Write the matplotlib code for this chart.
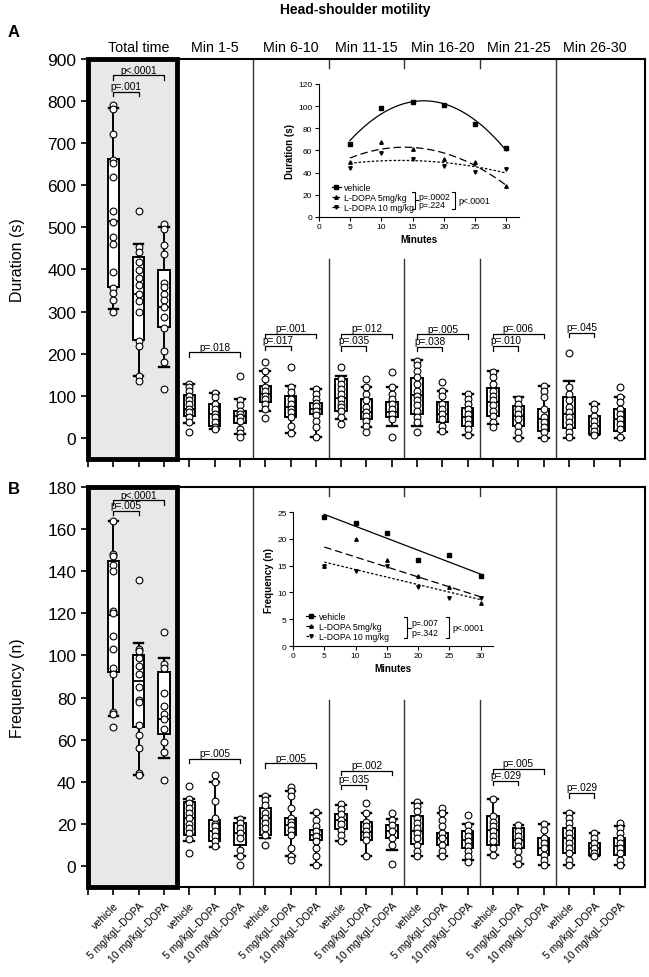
import numpy as np
import matplotlib.pyplot as plt
from matplotlib.lines import Line2D
from matplotlib.transforms import blended_transform_factory

plt.rcParams['font.family'] = ['Liberation Sans', 'DejaVu Sans']

segments = ['Total time', 'Min 1-5', 'Min 6-10', 'Min 11-15', 'Min 16-20', 'Min 21-25', 'Min 26-30']
groups = ['vehicle', '5 mg/kgL-DOPA', '10 mg/kgL-DOPA']

# ---- Duration (s), single animals, order: vehicle / 5 mg / 10 mg ----
dur_total = [[790, 780, 722, 660, 652, 620, 538, 512, 477, 460, 395, 355, 345, 328, 300],
             [540, 453, 441, 417, 399, 379, 362, 342, 326, 298, 231, 219, 148, 136],
             [507, 496, 458, 437, 367, 358, 342, 328, 310, 287, 261, 206, 181, 116]]
dur_min1_5 = [[128, 120, 112, 100, 89, 81, 69, 61, 49, 37, 15],
              [106, 97, 81, 69, 57, 49, 37, 25, 21],
              [146, 91, 77, 65, 57, 49, 41, 21, 12, 2]]
dur_min6_10 = [[180, 158, 140, 120, 112, 100, 93, 81, 69, 47],
               [168, 120, 108, 93, 81, 69, 61, 49, 29, 12],
               [116, 105, 93, 83, 75, 65, 55, 41, 25, 2]]
dur_min11_15 = [[168, 140, 128, 116, 105, 93, 80, 73, 65, 49, 33],
                [139, 120, 105, 89, 73, 61, 53, 41, 29, 13],
                [156, 120, 105, 93, 81, 69, 57, 45, 2]]
dur_min16_20 = [[182, 172, 160, 144, 128, 112, 100, 89, 77, 65, 49, 37, 13],
                [132, 112, 100, 81, 69, 57, 45, 29, 17],
                [105, 93, 81, 69, 57, 45, 33, 21, 6]]
dur_min21_25 = [[156, 144, 128, 112, 100, 89, 77, 65, 51, 37, 25],
                [93, 81, 69, 57, 45, 29, 13, 0],
                [123, 112, 97, 69, 49, 37, 25, 13, 0]]
dur_min26_30 = [[201, 120, 105, 89, 73, 61, 49, 37, 25, 13, 2],
                [81, 69, 53, 41, 29, 17, 6],
                [120, 97, 85, 69, 57, 45, 33, 21, 2]]

# box stats: (whisker low, q1, median, q3, whisker high)
dur_total_box = [(306, 358, 514, 662, 783), (146, 232, 341, 430, 460), (168, 263, 310, 399, 502)]
dur_min1_5_box = [(35, 53, 69, 102, 128), (21, 29, 57, 81, 106), (10, 35, 51, 65, 93)]
dur_min6_10_box = [(65, 86, 105, 123, 158), (12, 49, 73, 100, 123), (2, 57, 69, 83, 116)]
dur_min11_15_box = [(45, 65, 95, 140, 148), (25, 45, 61, 93, 120), (29, 49, 61, 85, 120)]
dur_min16_20_box = [(29, 57, 102, 142, 184), (13, 37, 57, 85, 112), (6, 28, 49, 71, 105)]
dur_min21_25_box = [(33, 51, 85, 118, 158), (0, 29, 51, 75, 97), (0, 17, 45, 69, 123)]
dur_min26_30_box = [(0, 23, 57, 97, 136), (6, 9, 29, 51, 81), (0, 17, 45, 69, 97)]

# ---- Frequency (n) ----
freq_total = [[164, 148, 147, 143, 140, 121, 120, 109, 103, 94, 91, 73, 72, 66],
              [136, 103, 102, 99, 95, 91, 85, 79, 78, 67, 62, 56, 44, 43],
              [111, 96, 94, 82, 76, 72, 70, 65, 59, 54, 41]]
freq_min1_5 = [[38, 32, 30, 27.5, 25, 22.7, 20, 18, 15.6, 13, 6],
               [43, 40, 31, 23, 20, 18.8, 16.4, 14, 11.7, 9.3],
               [22.4, 20.4, 18, 15.6, 13.3, 7.7, 4.6, 0.3]]
freq_min6_10 = [[33, 31.4, 29, 25, 22.7, 20.4, 18, 14.8, 10],
                [37.7, 35.4, 33, 27.5, 23, 21, 19.3, 17.2, 14.8, 8.5, 4.6, 3],
                [25.6, 22, 18.8, 16.4, 14, 11.7, 8.5, 4.6, 0.6]]
freq_min11_15 = [[29.4, 27.2, 24.6, 22, 20, 17.2, 14.8, 11.7],
                 [30, 25, 21, 18.8, 16.4, 14.8, 12.5, 4.6],
                 [25, 22, 19.3, 16.4, 13.3, 10, 1]]
freq_min16_20 = [[30.6, 28.3, 25.9, 23, 20.4, 18, 15.6, 13.3, 10.1, 7.3, 4.6],
                 [27.5, 25, 22, 18.8, 15.6, 13.3, 10.1, 7, 4.6],
                 [24, 19.6, 16.4, 14, 11.7, 9.3, 7, 4.6, 1.9]]
freq_min21_25 = [[31.9, 23.5, 21, 18.8, 16.4, 14, 11.7, 8.5, 5.4],
                 [19.3, 16.4, 14, 11.7, 9.3, 7, 4, 1],
                 [20, 17.2, 13.3, 11, 8.5, 5.4, 3, 0.6]]
freq_min26_30 = [[25, 22.7, 20.4, 18, 15.6, 13.3, 11, 8.5, 6.2, 3, 0.6],
                 [15.6, 13.3, 11, 8.5, 6.2, 4.6],
                 [20.4, 18, 15.6, 13.3, 11, 8.5, 6.2, 3, 0.6]]

freq_total_box = [(71, 92, 119, 145, 164), (43, 66, 88, 100, 106), (51.5, 62.5, 70, 92, 99)]
freq_min1_5_box = [(11.7, 14.8, 22.7, 30.6, 32), (9, 11.7, 16.4, 22, 40), (4.6, 10, 15.6, 20.4, 22.7)]
freq_min6_10_box = [(13.3, 14.8, 23, 27.5, 33), (4.6, 14.8, 19.6, 23, 35.4), (0.6, 12.5, 14.8, 17.2, 25)]
freq_min11_15_box = [(11.7, 17.7, 22, 24.6, 29), (4.6, 12.5, 16, 21, 25), (7.7, 13.3, 16.4, 19.3, 22.3)]
freq_min16_20_box = [(4.6, 10.4, 16.4, 23.5, 29.8), (4.6, 10, 13.3, 15.6, 25), (3, 8.5, 12.5, 16.4, 20)]
freq_min21_25_box = [(5.4, 10, 17.2, 23.5, 32), (1, 8.5, 12.5, 18, 19.3), (0.6, 5.4, 8.5, 13.3, 20)]
freq_min26_30_box = [(0.6, 6.2, 13.3, 18, 25), (4.6, 5.4, 8.5, 11, 15.6), (0.6, 5.4, 9.3, 13.3, 18.8)]

# significance brackets: (group a, group b, level, label); groups numbered 1..21
dur_pvals = [(1, 2, 822, 'p=.001'), (1, 3, 861, 'p<.0001'), (4, 6, 203, 'p=.018'),
             (7, 8, 219, 'p=.017'), (7, 9, 247, 'p=.001'), (10, 11, 218, 'p=.035'),
             (10, 12, 247, 'p=.012'), (13, 14, 216, 'p=.038'), (13, 15, 246, 'p=.005'),
             (16, 17, 218, 'p=.010'), (16, 18, 247, 'p=.006'), (19, 20, 249, 'p=.045')]
freq_pvals = [(1, 2, 168.8, 'p=.005'), (1, 3, 173.6, 'p<.0001'), (4, 6, 51, 'p=.005'),
              (7, 9, 48.8, 'p=.005'), (10, 11, 38.5, 'p=.035'), (10, 12, 45.3, 'p=.002'),
              (16, 17, 40.4, 'p=.029'), (16, 18, 46, 'p=.005'), (19, 20, 34.6, 'p=.029')]

# inset data: group means per 5-min bin
minutes = [5, 10, 15, 20, 25, 30]
ins_dur_veh = [66, 98, 104, 101, 84, 62]
ins_dur_5 = [50, 68, 61.5, 52, 50, 28]
ins_dur_10 = [44, 58, 52, 46, 41, 43]
ins_freq_veh = [24, 23, 21, 16, 17, 13]
ins_freq_5 = [15, 20, 16, 13, 11, 8]
ins_freq_10 = [15, 14, 15, 11, 9, 9]

dur_points = [dur_total, dur_min1_5, dur_min6_10, dur_min11_15, dur_min16_20, dur_min21_25, dur_min26_30]
dur_boxes = [dur_total_box, dur_min1_5_box, dur_min6_10_box, dur_min11_15_box,
             dur_min16_20_box, dur_min21_25_box, dur_min26_30_box]
freq_points = [freq_total, freq_min1_5, freq_min6_10, freq_min11_15, freq_min16_20, freq_min21_25, freq_min26_30]
freq_boxes = [freq_total_box, freq_min1_5_box, freq_min6_10_box, freq_min11_15_box,
              freq_min16_20_box, freq_min21_25_box, freq_min26_30_box]


def draw_panel(ax, points, boxes, pvals, ylim, yticks, ylabel, gap, show_labels):
    ax.set_xlim(0, 22)
    ax.set_ylim(*ylim)
    ax.axvspan(0, 3.5, facecolor='#e8e8e8', edgecolor='black', lw=3.5, zorder=0, clip_on=False)

    # separators between time bins (partly hidden behind the inset)
    span = ylim[1] - ylim[0]
    for xs in [6.5, 18.5]:
        ax.plot([xs, xs], ylim, color='#333333', lw=1.0, zorder=1)
    for xs in [9.5, 12.5, 15.5]:
        ax.plot([xs, xs], [ylim[0], gap], color='#333333', lw=1.0, zorder=1)
        ax.plot([xs, xs], [ylim[1] - 0.022 * span, ylim[1]], color='#333333', lw=1.0, zorder=1)

    stats = []
    pos = []
    for i, seg in enumerate(boxes):
        for j, (lo, q1, med, q3, hi) in enumerate(seg):
            stats.append(dict(whislo=lo, q1=q1, med=med, q3=q3, whishi=hi, fliers=[]))
            pos.append(3 * i + j + 1)
    ax.bxp(stats, positions=pos, widths=0.45, capwidths=0.38, showfliers=False,
           patch_artist=True, manage_ticks=False,
           boxprops=dict(facecolor='white', edgecolor='black', lw=1.4),
           medianprops=dict(color='black', lw=1.3),
           whiskerprops=dict(color='black', lw=1.4),
           capprops=dict(color='black', lw=1.7))

    for i, seg in enumerate(points):
        for j, vals in enumerate(seg):
            ax.scatter(np.full(len(vals), 3 * i + j + 1), vals, s=24, facecolor='white',
                       edgecolor='black', lw=0.8, zorder=4)

    leg = 0.011 * span
    for a, b, y, lab in pvals:
        ax.plot([a, a, b, b], [y - leg, y, y, y - leg], color='black', lw=0.9, zorder=5)
        ax.annotate(lab, ((a + b) / 2, y), xytext=(0, 0.5), textcoords='offset points',
                    ha='center', va='bottom', fontsize=7.3, zorder=6)

    ax.set_yticks(yticks)
    ax.set_xticks(range(22))
    ax.tick_params(axis='y', labelsize=12.5, direction='out', length=5, width=1.2)
    ax.tick_params(axis='x', direction='out', length=6, width=1.2)
    if show_labels:
        ax.set_xticklabels([''] + groups * 7, rotation=45, ha='right',
                           rotation_mode='anchor', fontsize=7.5)
    else:
        ax.set_xticklabels([])
    for s in ax.spines.values():
        s.set_linewidth(1.5)
    ax.set_ylabel(ylabel, fontsize=11.5)
    ax.yaxis.set_label_coords(-0.113, 0.5)


def draw_inset(ax, ylist, ylim, yticks, ylabel, deg, brackets):
    veh, d5, d10 = ylist
    styles = [(veh, 's', '-'), (d5, '^', (0, (6, 3))), (d10, 'v', (0, (2, 1.5)))]
    xs = np.linspace(5, 30, 100)
    for vals, mk, ls in styles:
        ax.plot(minutes, vals, marker=mk, ls='none', color='black', ms=2.5)
        coef = np.polyfit(minutes, vals, deg)
        ax.plot(xs, np.polyval(coef, xs), color='black', lw=0.9, ls=ls)
    ax.set_xlim(0, 32)
    ax.set_ylim(*ylim)
    ax.set_xticks([0, 5, 10, 15, 20, 25, 30])
    ax.set_yticks(yticks)
    ax.spines['top'].set_visible(False)
    ax.spines['right'].set_visible(False)
    ax.tick_params(labelsize=6, length=3, width=0.8, pad=1.5)
    ax.set_xlabel('Minutes', fontsize=7, fontweight='bold', labelpad=3)
    ax.set_ylabel(ylabel, fontsize=7, fontweight='bold', labelpad=2)
    ax.patch.set_alpha(0)

    handles = [Line2D([0], [0], color='black', marker=mk, ms=2.5, lw=0.9, ls=ls)
               for _, mk, ls in styles]
    ax.legend(handles, ['vehicle', 'L-DOPA 5mg/kg', 'L-DOPA 10 mg/kg'], loc='lower left',
              bbox_to_anchor=(0.04, 0.0), fontsize=6.3, frameon=False, handlelength=1.0,
              handletextpad=0.4, labelspacing=0.12, borderpad=0.1)

    (bx, y0, y1, p1, p2), (ox, p3) = brackets
    ym = (y0 + y1) / 2
    tw = 0.5
    ax.plot([bx - tw, bx, bx, bx - tw], [y1, y1, y0, y0], color='black', lw=0.8)
    ax.plot([bx, bx + tw], [ym, ym], color='black', lw=0.8)
    ax.text(bx + 0.6, ym + (y1 - y0) * 0.22, p1, fontsize=6.3, va='center')
    ax.text(bx + 0.6, ym - (y1 - y0) * 0.25, p2, fontsize=6.3, va='center')
    ax.plot([ox - tw, ox, ox, ox - tw], [y1, y1, y0, y0], color='black', lw=0.8)
    ax.text(ox + 0.6, ym, p3, fontsize=6.3, va='center')


fig = plt.figure(figsize=(6.49, 9.78), dpi=100)
ax_a = fig.add_axes([0.1356, 0.5297, 0.8582, 0.409])
ax_b = fig.add_axes([0.1356, 0.092, 0.8582, 0.409])

draw_panel(ax_a, dur_points, dur_boxes, dur_pvals, (-50, 900), range(0, 901, 100),
           'Duration (s)', 425, False)
draw_panel(ax_b, freq_points, freq_boxes, freq_pvals, (-10, 180), range(0, 181, 20),
           'Frequency (n)', 79, True)

trans = blended_transform_factory(ax_a.transData, ax_a.transAxes)
for i, seg in enumerate(segments):
    ax_a.text(3 * i + 2, 1.012, seg, transform=trans, ha='center', va='bottom', fontsize=10.3)

ins_a = fig.add_axes([0.4909, 0.7771, 0.3088, 0.136])
draw_inset(ins_a, [ins_dur_veh, ins_dur_5, ins_dur_10], (0, 120), range(0, 121, 20),
           'Duration (s)', 2, ((15.4, 7, 23, 'p=.0002', 'p=.224'), (21.8, 'p<.0001')))
ins_b = fig.add_axes([0.4515, 0.3384, 0.3082, 0.137])
draw_inset(ins_b, [ins_freq_veh, ins_freq_5, ins_freq_10], (0, 25), range(0, 26, 5),
           'Frequency (n)', 1, ((18.3, 1.5, 5.4, 'p=.007', 'p=.342'), (24.9, 'p<.0001')))

fig.text(0.547, 0.99, 'Head-shoulder motility', ha='center', va='center',
         fontsize=10, fontweight='bold')
fig.text(0.012, 0.967, 'A', fontsize=12, fontweight='bold', va='center')
fig.text(0.012, 0.499, 'B', fontsize=12, fontweight='bold', va='center')

fig.savefig('out.png', dpi=100)
